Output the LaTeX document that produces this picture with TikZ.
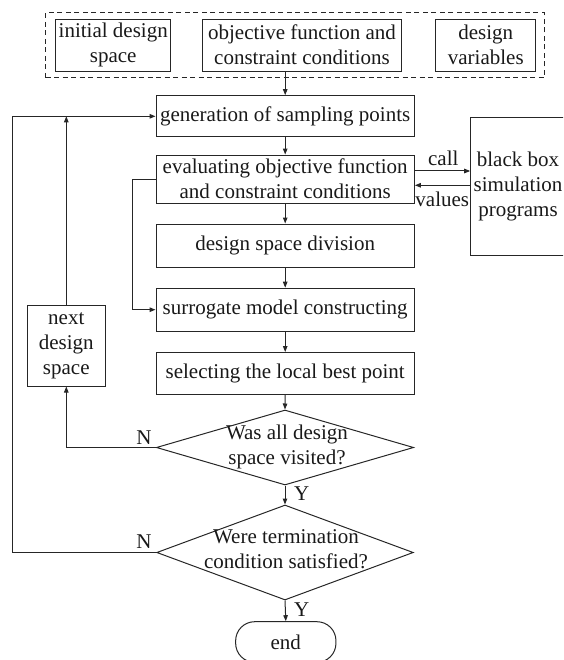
\documentclass[tikz,border=0pt]{standalone}
\usepackage{fontspec}
\setmainfont{Liberation Serif}
\usetikzlibrary{arrows.meta,shapes.geometric}
\begin{document}
\begin{tikzpicture}[x=1pt,y=-1pt,
  every node/.style={font=\fontsize{21}{25}\selectfont, text=black!90},
  box/.style={draw=black!85, line width=1pt, inner sep=0pt, align=center},
  dbox/.style={draw=black!85, line width=1pt, inner sep=0pt, dash pattern=on 5pt off 3.5pt},
  dia/.style={draw=black!85, line width=1pt, diamond, inner sep=0pt},
  arr/.style={-{Triangle[length=6pt,width=4.5pt]}, draw=black!85, line width=1pt},
  ln/.style={draw=black!85, line width=1pt},
  lbl/.style={inner sep=0pt, align=center}]
\useasboundingbox (0,0) rectangle (563,660);
\clip (0,0) rectangle (563,660);

% input group
\node[dbox, minimum width=498.3, minimum height=65.3] (inp) at (294.85,45.35) {};
\node[box, minimum width=115, minimum height=51.7] (init) at (113.2,45.2) {initial design\\space};
\node[box, minimum width=199.4, minimum height=51.7] (obj) at (302,45.2) {objective function and\\constraint conditions};
\node[box, minimum width=100.3, minimum height=51.7] (dv) at (485.8,45.2) {design\\variables};

% main column
\node[box, minimum width=258.3, minimum height=41.3] (gen) at (285.2,116.3) {generation of sampling points};
\node[box, minimum width=258.3, minimum height=48.3] (eval) at (285.2,179.2) {evaluating objective function\\and constraint conditions};
\node[box, minimum width=258.3, minimum height=43] (div) at (285.2,245.5) {design space division};
\node[box, minimum width=258.3, minimum height=43] (sur) at (285.2,309.7) {surrogate model constructing};
\node[box, minimum width=258.3, minimum height=42] (sel) at (285.2,373.5) {selecting the local best point};

\node[dia, minimum width=257.3, minimum height=75] (d1) at (285,447.5) {};
\node[lbl] (d1t) at (287,446.7) {Was all design\\space visited?};
\node[dia, minimum width=256.6, minimum height=95] (d2) at (285,552.5) {};
\node[lbl] (d2t) at (286,549) {Were termination\\condition satisfied?};

\node[box, rounded corners=19pt, minimum width=100.3, minimum height=40.6] (end) at (285.8,642) {end};

% side boxes
\node[box, minimum width=120, minimum height=138] (bb) at (530.7,186.7) {};
\node[lbl] (bbt) at (518,186.7) {black box\\simulation\\programs};
\node[box, minimum width=78, minimum height=81] (next) at (66.3,345.5) {next\\design\\space};

% labels
\node[lbl] (call) at (443.3,158.3) {call};
\node[lbl] (values) at (442.3,199.3) {values};
\node[lbl] (y1) at (301.7,493.3) {Y};
\node[lbl] (y2) at (301.7,610) {Y};
\node[lbl] (n1) at (144,437.3) {N};
\node[lbl] (n2) at (144,541.7) {N};

% connectors
\draw[arr] (gen.north |- obj.south) -- (gen.north);
\draw[arr] (gen.south) -- (eval.north);
\draw[arr] (eval.south) -- (div.north);
\draw[arr] (div.south) -- (sur.north);
\draw[arr] (sur.south) -- (sel.north);
\draw[arr] (sel.south) -- (d1.north);
\draw[arr] (d1.south) -- (d2.north);
\draw[arr] (d2.south) -- (end.north);
\draw[arr] (eval.east |- 0,171) -- (bb.west |- 0,171);
\draw[arr] (bb.west |- 0,185.3) -- (eval.east |- 0,185.3);
\draw[arr] (eval.west) -- ++(-22.7,0) |- (sur.west);
\draw[arr] (d1.west) -| (next.south);
\draw[arr] (next.north) -- (next.north |- gen.west);
\draw[arr] (d2.west) -- (12.3,552.5) |- (gen.west);
\end{tikzpicture}
\end{document}
